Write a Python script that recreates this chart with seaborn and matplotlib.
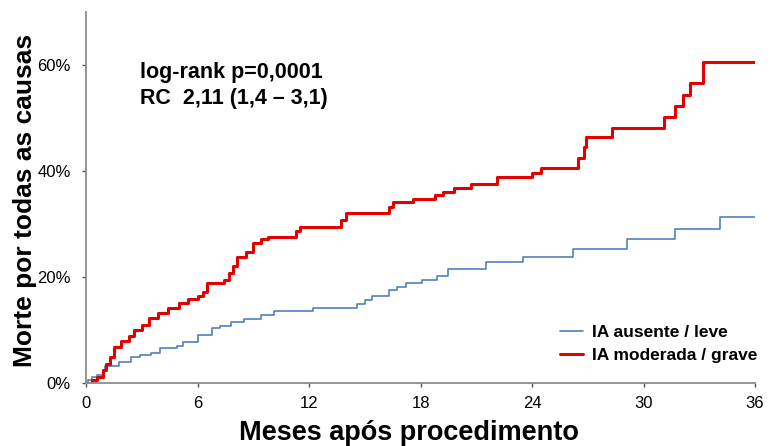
import pandas as pd
import matplotlib.pyplot as plt
import seaborn as sns
from matplotlib.ticker import PercentFormatter

# Kaplan-Meier style cumulative mortality (months, %)
meses_leve = [0, 0.1, 0.3, 0.6, 0.9, 1.0, 1.8, 2.4, 2.9, 3.5, 4.0, 4.9, 5.2, 6.0,
              6.8, 7.2, 7.8, 8.5, 9.4, 10.1, 12.2, 14.6, 15.0, 15.4, 16.3, 16.75,
              17.2, 18.1, 18.9, 19.5, 21.5, 23.5, 26.2, 29.1, 31.7, 34.1, 36.0]
morte_leve = [0, 0.5, 1.1, 1.6, 2.5, 3.2, 4.0, 4.9, 5.3, 5.7, 6.6, 7.0, 7.7, 9.1,
              10.4, 10.8, 11.5, 12.1, 12.8, 13.6, 14.1, 14.9, 15.7, 16.4, 17.5, 18.1,
              18.8, 19.4, 20.2, 21.5, 22.9, 23.8, 25.3, 27.2, 29.1, 31.3, 31.3]

meses_grave = [0, 0.3, 0.6, 0.9, 1.1, 1.3, 1.5, 1.9, 2.3, 2.6, 3.0, 3.4, 3.9, 4.4,
               5.0, 5.5, 6.0, 6.3, 6.5, 7.4, 7.7, 7.9, 8.1, 8.6, 9.0, 9.4, 9.8,
               11.3, 11.5, 13.7, 14.0, 16.3, 16.5, 17.6, 18.8, 19.2, 19.8, 20.7,
               22.1, 24.0, 24.5, 26.5, 26.8, 26.9, 28.3, 31.1, 31.7, 32.1, 32.5,
               33.2, 36.0]
morte_grave = [0, 0.5, 1.2, 2.5, 3.5, 5.0, 6.8, 8.0, 8.8, 10.0, 11.0, 12.3, 13.2, 14.2,
               15.1, 15.8, 16.5, 17.2, 18.9, 19.5, 20.7, 22.0, 23.8, 24.8, 26.4, 27.2, 27.6,
               28.6, 29.4, 30.8, 32.1, 33.2, 34.1, 34.7, 35.5, 36.0, 36.8, 37.5,
               38.8, 39.6, 40.5, 42.5, 44.6, 46.4, 48.1, 50.2, 52.3, 54.3, 56.6,
               60.6, 60.6]

rotulos = ['IA ausente / leve', 'IA moderada / grave']
cores = ['#4f81bd', '#e30000']
xticks = [0, 6, 12, 18, 24, 30, 36]
yticks = [0, 20, 40, 60]

sns.set_style('white')
plt.rcParams['font.family'] = ['Liberation Sans', 'DejaVu Sans']
plt.rcParams['text.color'] = 'black'
plt.rcParams['xtick.bottom'] = True
plt.rcParams['ytick.left'] = True

fig = plt.figure(figsize=(7.76, 4.46), dpi=100)
ax = fig.add_axes([86 / 776, 63 / 446, 669 / 776, 371 / 446])

df_leve = pd.DataFrame({'mes': meses_leve, 'morte': morte_leve})
df_grave = pd.DataFrame({'mes': meses_grave, 'morte': morte_grave})

sns.lineplot(data=df_leve, x='mes', y='morte', drawstyle='steps-post',
             color=cores[0], linewidth=1.2, label=rotulos[0], ax=ax)
sns.lineplot(data=df_grave, x='mes', y='morte', drawstyle='steps-post',
             color=cores[1], linewidth=2.2, label=rotulos[1], ax=ax)

ax.set_xlim(0, 36)
ax.set_ylim(0, 70)
ax.set_xticks(xticks)
ax.set_yticks(yticks)
ax.yaxis.set_major_formatter(PercentFormatter(decimals=0))

for lado in ['top', 'right']:
    ax.spines[lado].set_visible(False)
for lado in ['left', 'bottom']:
    ax.spines[lado].set_color('#8c8c8c')
    ax.spines[lado].set_linewidth(1.3)

ax.tick_params(axis='both', direction='out', length=3, width=1, color='#555555',
               labelcolor='black')
ax.tick_params(axis='y', labelsize=12, pad=8)
ax.tick_params(axis='x', labelsize=12, pad=6)

ax.set_xlabel('Meses após procedimento', fontsize=19.5, fontweight='bold', color='black')
ax.set_ylabel('Morte por todas as causas', fontsize=19, fontweight='bold', color='black')
ax.xaxis.set_label_coords(0.483, -0.1)
ax.yaxis.set_label_coords(-0.073, 0.493)

ax.text(0.081, 0.866, 'log-rank p=0,0001\nRC  2,11 (1,4 – 3,1)', transform=ax.transAxes,
        fontsize=15.5, fontweight='bold', va='top', ha='left', linespacing=1.3)

leg = ax.legend(loc='upper left', bbox_to_anchor=(560 / 776, 1 - 325 / 446),
                bbox_transform=fig.transFigure, frameon=False, borderpad=0,
                borderaxespad=0, prop={'size': 12.5, 'weight': 'bold'},
                handlelength=1.35, handletextpad=0.5, labelspacing=0.45)

fig.savefig('out.png', dpi=100)
